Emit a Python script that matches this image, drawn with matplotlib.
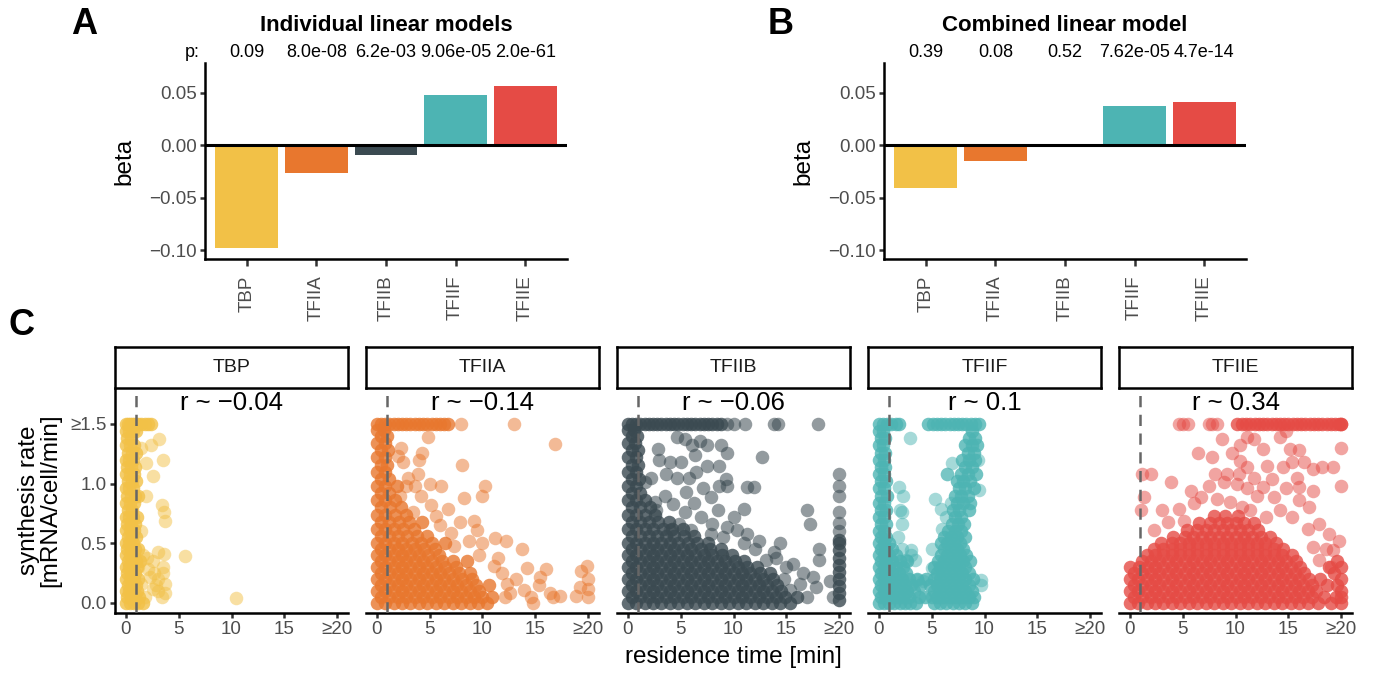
import numpy as np
import matplotlib
matplotlib.use("Agg")
import matplotlib.pyplot as plt
import matplotlib.transforms as mtransforms

plt.rcParams['font.family'] = ['Liberation Sans', 'DejaVu Sans']

# ---------------- data ----------------
factors = ["TBP", "TFIIA", "TFIIB", "TFIIF", "TFIIE"]
colors = ["#F2C147", "#E8772E", "#3B4A51", "#4DB4B3", "#E54B45"]

beta_individual = [-0.098, -0.026, -0.009, 0.048, 0.057]
p_individual = ["0.09", "8.0e-08", "6.2e-03", "9.06e-05", "2.0e-61"]
beta_combined = [-0.041, -0.015, -0.002, 0.0375, 0.041]
p_combined = ["0.39", "0.08", "0.52", "7.62e-05", "4.7e-14"]

r_values = ["r ~ \u22120.04", "r ~ \u22120.14", "r ~ \u22120.06", "r ~ 0.1", "r ~ 0.34"]

beta_ticks = [-0.10, -0.05, 0.00, 0.05]
beta_ticklabels = ["\u22120.10", "\u22120.05", "0.00", "0.05"]
time_ticks = [0, 5, 10, 15, 20]
time_ticklabels = ["0", "5", "10", "15", "\u226520"]
rate_ticks = [0.0, 0.5, 1.0, 1.5]
rate_ticklabels = ["0.0", "0.5", "1.0", "\u22651.5"]

# scatter points: dense rows (synthesis rate, [residence times]) + single points (time, rate)
tbp_rows = [
    (0.00, [0.0, 0.4, 0.8, 1.2, 1.6]), (0.05, [0.1, 0.5, 0.9, 1.3]),
    (0.10, [0.0, 0.3, 0.7, 1.1]), (0.15, [0.2, 0.6, 1.0]),
    (0.20, [0.0, 0.4, 0.8, 1.2]), (0.25, [0.1, 0.5, 0.9]),
    (0.30, [0.0, 0.3, 0.7, 1.1]), (0.35, [0.2, 0.6, 1.0, 1.4]),
    (0.40, [0.0, 0.4, 0.8]), (0.45, [0.1, 0.5, 0.9, 1.2]),
    (0.50, [0.0, 0.3, 0.7]), (0.55, [0.2, 0.6, 1.0]),
    (0.61, [0.0, 0.4, 0.8]), (0.66, [0.1, 0.5, 0.9]),
    (0.72, [0.0, 0.3, 0.7, 1.1]), (0.78, [0.2, 0.6]),
    (0.84, [0.0, 0.4, 0.8]), (0.90, [0.1, 0.5, 0.9, 1.2]),
    (0.96, [0.0, 0.3, 0.7]), (1.02, [0.2, 0.6, 1.0]),
    (1.08, [0.0, 0.4, 0.8]), (1.14, [0.1, 0.5, 0.9]),
    (1.20, [0.0, 0.3, 0.7]), (1.26, [0.2, 0.6, 1.0]),
    (1.32, [0.0, 0.4, 0.8]), (1.38, [0.1, 0.5]),
    (1.44, [0.0, 0.3, 0.7, 1.0]),
    (1.50, [0.0, 0.2, 0.4, 0.6, 0.8, 1.0, 1.2, 1.5, 1.8, 2.1, 2.4]),
]
tbp_single = [
    (3.2, 1.37), (2.4, 1.32), (1.5, 1.30), (3.5, 1.20), (1.9, 1.17), (2.6, 1.06),
    (1.9, 0.90), (3.4, 0.82), (3.6, 0.76), (3.7, 0.69), (1.5, 0.60), (5.6, 0.39),
    (3.1, 0.43), (3.6, 0.41), (2.0, 0.38), (2.6, 0.35), (3.5, 0.30), (3.5, 0.25),
    (2.3, 0.22), (3.1, 0.20), (3.7, 0.16), (3.7, 0.08), (1.8, 0.05), (10.4, 0.04),
    (1.5, 0.16), (2.6, 0.12), (1.2, 0.30), (2.7, 0.25), (3.4, 0.05), (2.1, 0.28),
    (3.1, 0.10), (1.6, 0.40), (2.9, 0.15),
]

tfiia_rows = [
    (0.00, [0.0, 0.8, 1.6, 2.4, 3.2, 4.0, 4.8, 5.6, 6.4, 7.2, 8.0, 8.8, 9.6, 10.4]),
    (0.05, [0.4, 1.2, 2.0, 2.8, 3.6, 4.4, 5.2, 6.0, 6.8, 7.6, 8.4, 9.2, 10.0, 10.9]),
    (0.10, [0.0, 0.8, 1.6, 2.4, 3.2, 4.0, 4.8, 5.6, 6.4, 7.2, 8.0, 8.8, 9.7]),
    (0.15, [0.4, 1.2, 2.0, 2.8, 3.6, 4.4, 5.2, 6.0, 6.8, 7.6, 8.4, 9.4, 10.6]),
    (0.20, [0.0, 0.8, 1.6, 2.4, 3.2, 4.0, 4.8, 5.6, 6.4, 7.2, 8.1, 9.0]),
    (0.25, [0.4, 1.2, 2.0, 2.8, 3.6, 4.4, 5.2, 6.0, 6.8, 7.8, 8.8]),
    (0.30, [0.0, 0.8, 1.6, 2.4, 3.2, 4.0, 4.8, 5.6, 6.5, 7.5]),
    (0.35, [0.4, 1.2, 2.0, 2.8, 3.6, 4.4, 5.2, 6.2, 7.2, 8.5]),
    (0.40, [0.0, 0.8, 1.6, 2.4, 3.2, 4.0, 4.9, 5.9]),
    (0.45, [0.4, 1.2, 2.0, 2.8, 3.6, 4.5, 5.5]),
    (0.50, [0.0, 0.8, 1.6, 2.4, 3.3, 4.2, 5.2, 6.5]),
    (0.56, [0.4, 1.2, 2.0, 2.9, 3.8, 4.8]),
    (0.62, [0.0, 0.8, 1.6, 2.5, 3.5]),
    (0.68, [0.4, 1.2, 2.1, 3.1, 4.3]),
    (0.74, [0.0, 0.8, 1.7, 2.8]),
    (0.80, [0.4, 1.3, 2.3]),
    (0.86, [0.0, 0.8, 1.7]),
    (0.92, [0.4, 1.2]), (0.98, [0.0, 0.8, 1.9]), (1.04, [0.4, 1.2]),
    (1.10, [0.0, 0.8]), (1.16, [0.4, 1.0]), (1.22, [0.0, 0.8]),
    (1.28, [0.4, 1.1]), (1.34, [0.0, 0.8]), (1.40, [0.4, 1.0]), (1.45, [0.0, 0.7]),
    (1.50, [0.0, 0.4, 0.8, 1.2, 1.6, 2.0, 2.4, 2.8, 3.2, 3.6, 4.0, 4.4, 4.8, 5.2,
            5.6, 6.0, 6.4, 6.7]),
]
tfiia_single = [
    (8.0, 1.50), (13.0, 1.50),
    (16.8, 1.33), (4.9, 1.39), (2.3, 1.30), (4.3, 1.26), (2.0, 1.23), (2.5, 1.18),
    (8.1, 1.16), (3.9, 1.08), (2.8, 0.98), (3.6, 0.98), (6.1, 0.98), (10.2, 0.98),
    (10.0, 0.90), (8.3, 0.88), (4.2, 0.90), (2.2, 0.90), (5.1, 0.82), (6.7, 0.79),
    (3.4, 0.76), (5.6, 0.73), (7.9, 0.68), (9.2, 0.69), (9.5, 0.61), (7.0, 0.59),
    (11.2, 0.54), (12.2, 0.52), (13.7, 0.45), (10.0, 0.50), (8.7, 0.52), (11.5, 0.38),
    (14.2, 0.29), (16.0, 0.28), (19.9, 0.31), (19.3, 0.27), (20.0, 0.20), (19.2, 0.13),
    (20.0, 0.12), (18.8, 0.06), (20.0, 0.05), (17.3, 0.06), (16.4, 0.08), (15.4, 0.22),
    (14.6, 0.05), (14.8, 0.00), (13.2, 0.20), (12.3, 0.16), (13.9, 0.11), (12.1, 0.05),
    (11.1, 0.31), (11.8, 0.25), (12.6, 0.08), (15.3, 0.15), (16.7, 0.05), (4.0, 1.20),
    (3.0, 1.05), (5.0, 1.00), (7.3, 0.48), (9.7, 0.40), (6.0, 0.65),
]

tfiib_rows = [
    (0.00, [0.0, 0.8, 1.6, 2.4, 3.2, 4.0, 4.8, 5.6, 6.4, 7.2, 8.0, 8.8, 9.6, 10.4,
            11.2, 12.0, 12.8, 13.6, 14.4, 15.3]),
    (0.05, [0.4, 1.2, 2.0, 2.8, 3.6, 4.4, 5.2, 6.0, 6.8, 7.6, 8.4, 9.2, 10.0, 10.8,
            11.6, 12.4, 13.2, 14.0, 14.9, 16.0]),
    (0.10, [0.0, 0.8, 1.6, 2.4, 3.2, 4.0, 4.8, 5.6, 6.4, 7.2, 8.0, 8.8, 9.6, 10.4,
            11.2, 12.0, 12.8, 13.6, 14.5]),
    (0.15, [0.4, 1.2, 2.0, 2.8, 3.6, 4.4, 5.2, 6.0, 6.8, 7.6, 8.4, 9.2, 10.0, 10.8,
            11.6, 12.4, 13.2, 14.1]),
    (0.20, [0.0, 0.8, 1.6, 2.4, 3.2, 4.0, 4.8, 5.6, 6.4, 7.2, 8.0, 8.8, 9.6, 10.4,
            11.2, 12.0, 12.8, 13.7]),
    (0.25, [0.4, 1.2, 2.0, 2.8, 3.6, 4.4, 5.2, 6.0, 6.8, 7.6, 8.4, 9.2, 10.0, 10.8,
            11.6, 12.5, 13.4]),
    (0.30, [0.0, 0.8, 1.6, 2.4, 3.2, 4.0, 4.8, 5.6, 6.4, 7.2, 8.0, 8.8, 9.6, 10.4,
            11.3, 12.2]),
    (0.35, [0.4, 1.2, 2.0, 2.8, 3.6, 4.4, 5.2, 6.0, 6.8, 7.6, 8.4, 9.2, 10.1, 11.0]),
    (0.40, [0.0, 0.8, 1.6, 2.4, 3.2, 4.0, 4.8, 5.6, 6.4, 7.2, 8.0, 8.9, 9.9]),
    (0.45, [0.4, 1.2, 2.0, 2.8, 3.6, 4.4, 5.2, 6.0, 6.9, 7.8, 8.8]),
    (0.50, [0.0, 0.8, 1.6, 2.4, 3.2, 4.0, 4.8, 5.7, 6.6, 7.6]),
    (0.56, [0.4, 1.2, 2.0, 2.8, 3.6, 4.4, 5.3, 6.3]),
    (0.62, [0.0, 0.8, 1.6, 2.4, 3.3, 4.2, 5.2]),
    (0.68, [0.4, 1.2, 2.0, 2.9, 3.9]),
    (0.74, [0.0, 0.8, 1.6, 2.6]),
    (0.80, [0.4, 1.2, 2.1]),
    (0.86, [0.0, 0.8, 1.6]), (0.92, [0.4, 1.2]), (0.98, [0.0, 0.8]),
    (1.04, [0.4, 1.1]), (1.10, [0.0, 0.8]), (1.16, [0.4, 1.0]), (1.22, [0.0, 0.8]),
    (1.28, [0.4, 1.0]), (1.34, [0.0, 0.7]), (1.40, [0.4, 0.9]), (1.45, [0.0, 0.6]),
    (1.50, [0.0, 0.4, 0.8, 1.2, 1.6, 2.0, 2.4, 2.8, 3.2, 3.6, 4.0, 4.4, 4.8, 5.2,
            5.6, 6.0, 6.4, 6.8, 7.2, 7.6, 8.0, 8.4, 8.8]),
    (0.02, [20.0]), (0.08, [20.0]), (0.14, [20.0]), (0.20, [20.0]), (0.26, [20.0]),
    (0.32, [20.0]), (0.38, [20.0]), (0.44, [20.0]), (0.50, [20.0]), (0.53, [20.0]),
]
tfiib_single = [
    (9.4, 1.50), (10.0, 1.50), (11.1, 1.50), (13.8, 1.50), (14.2, 1.50), (18.0, 1.50),
    (2.9, 1.29), (4.7, 1.39), (5.4, 1.37), (9.4, 1.26), (12.7, 1.22), (6.1, 1.32),
    (6.8, 1.36), (7.5, 1.32), (8.8, 1.32), (4.0, 1.18), (5.0, 1.18), (6.4, 1.24),
    (7.5, 1.15), (8.6, 1.15), (3.6, 1.08), (2.2, 1.05), (4.7, 1.05), (5.8, 1.05),
    (9.3, 1.04), (8.6, 0.98), (9.4, 0.98), (11.3, 0.97), (11.9, 0.97), (16.9, 0.78),
    (17.2, 0.66), (18.1, 0.45), (18.1, 0.36), (14.4, 0.50), (13.8, 0.43), (13.1, 0.36),
    (15.6, 0.33), (11.0, 0.79), (10.0, 0.72), (9.4, 0.64), (11.3, 0.58), (12.4, 0.52),
    (10.3, 0.61), (7.9, 0.89), (7.1, 0.96), (6.3, 0.84), (8.5, 0.78), (6.9, 0.72),
    (5.4, 0.76), (4.3, 0.83), (3.5, 0.90), (2.7, 0.78), (1.6, 1.01), (2.6, 0.85),
    (4.9, 0.66), (6.0, 0.61), (7.9, 0.58), (4.0, 0.61), (16.6, 0.25), (17.5, 0.22),
    (19.1, 0.18), (16.3, 0.16), (17.8, 0.13), (19.4, 0.05), (15.3, 0.11), (16.9, 0.05),
    (14.8, 0.20), (15.0, 0.30), (14.0, 0.38), (12.0, 0.45), (11.0, 0.50), (9.0, 0.55),
    (8.0, 0.66), (3.0, 1.20), (5.5, 0.93), (6.5, 1.10),
    (20.0, 0.60), (20.0, 0.67), (20.0, 0.76), (20.0, 0.90), (20.0, 0.98), (20.0, 1.08),
]

tfiif_rows = [
    (0.00, [0.0, 0.5, 1.0, 1.5, 2.0, 2.5, 3.0, 3.5, 5.2, 5.8, 6.4, 7.0, 7.6, 8.2, 8.8]),
    (0.05, [0.2, 0.7, 1.2, 1.8, 2.3, 2.9, 3.8, 4.4, 5.0, 5.5, 6.1, 6.7, 7.3, 7.9, 8.5,
            9.0]),
    (0.10, [0.0, 0.5, 1.0, 1.5, 2.1, 2.7, 3.3, 5.2, 5.8, 6.4, 7.0, 7.6, 8.2, 8.8]),
    (0.15, [0.2, 0.7, 1.3, 1.9, 2.5, 3.1, 3.9, 4.9, 5.5, 6.1, 6.7, 7.3, 7.9, 8.5]),
    (0.20, [0.0, 0.5, 1.0, 1.6, 2.2, 2.9, 3.6, 4.5, 5.2, 5.8, 6.4, 7.0, 7.6, 8.2, 8.9]),
    (0.25, [0.2, 0.7, 1.3, 1.9, 2.6, 5.5, 6.1, 6.7, 7.3, 7.9, 8.5]),
    (0.30, [0.0, 0.5, 1.0, 1.6, 2.3, 5.2, 5.8, 6.4, 7.0, 7.6, 8.2]),
    (0.35, [0.2, 0.7, 1.3, 2.0, 2.7, 5.6, 6.2, 6.8, 7.4, 8.0, 8.6]),
    (0.40, [0.0, 0.5, 1.0, 1.6, 5.9, 6.5, 7.1, 7.7, 8.3]),
    (0.45, [0.2, 0.7, 1.3, 6.2, 6.8, 7.4, 8.0]),
    (0.50, [0.0, 0.5, 1.0, 5.9, 6.5, 7.1, 7.7]),
    (0.55, [0.2, 0.7, 6.2, 6.8, 7.4, 8.2]),
    (0.60, [0.0, 0.5, 6.6, 7.2, 7.8]),
    (0.66, [0.2, 0.7, 6.9, 7.5, 8.1]),
    (0.72, [0.0, 0.5, 7.2, 7.8]),
    (0.78, [0.2, 0.7, 7.0, 7.6, 8.5]),
    (0.84, [0.0, 0.5, 7.4, 8.0, 8.6]),
    (0.90, [0.2, 0.8, 7.2, 7.8, 8.4]),
    (0.96, [0.0, 0.5, 7.6, 8.2, 9.0]),
    (1.02, [0.2, 0.7, 7.4, 8.0, 8.6]),
    (1.08, [0.0, 0.5, 7.8, 8.4, 9.2]),
    (1.14, [0.2, 0.6, 8.2, 8.8]),
    (1.20, [0.0, 0.5, 7.9, 8.5, 9.1]),
    (1.26, [0.2, 0.6, 8.4, 9.0]),
    (1.32, [0.0, 0.4, 8.2, 8.8, 9.3]),
    (1.38, [0.2, 0.6, 8.5, 9.1]),
    (1.44, [0.0, 0.4, 8.8]),
    (1.50, [0.0, 0.4, 0.8, 1.2, 1.6, 1.9, 4.7, 5.1, 5.5, 5.9, 6.3, 6.7, 7.1, 7.5, 7.9,
            8.3, 8.7, 9.1, 9.5]),
]
tfiif_single = [
    (3.0, 1.38), (5.3, 0.87), (5.9, 0.79), (6.5, 1.08), (6.9, 1.17), (5.0, 0.29),
    (4.2, 0.18), (3.6, 0.19), (1.9, 0.97), (2.2, 0.76), (3.1, 0.44), (3.4, 0.36),
    (2.6, 0.36), (9.7, 0.19), (9.4, 1.20), (9.5, 0.95), (6.0, 0.62), (9.7, 0.15),
    (3.1, 0.40), (2.2, 0.45), (1.8, 0.55), (2.2, 0.66), (2.0, 0.78), (2.3, 0.90),
    (6.4, 0.72), (6.8, 0.84), (6.5, 1.08), (5.0, 0.45),
]

tfiie_rows = [
    (0.00, [0.0, 0.8, 1.6, 2.4, 3.2, 4.0, 4.8, 5.6, 6.4, 7.2, 8.0, 8.8, 9.6, 10.4, 11.2,
            12.0, 12.8, 13.6, 14.4, 15.2, 16.0, 16.8, 17.8, 19.0, 20.0]),
    (0.05, [0.4, 1.2, 2.0, 2.8, 3.6, 4.4, 5.2, 6.0, 6.8, 7.6, 8.4, 9.2, 10.0, 10.8, 11.6,
            12.4, 13.2, 14.0, 14.8, 15.6, 16.4, 17.2, 18.4, 19.5, 20.0]),
    (0.10, [0.0, 0.8, 1.6, 2.4, 3.2, 4.0, 4.8, 5.6, 6.4, 7.2, 8.0, 8.8, 9.6, 10.4, 11.2,
            12.0, 12.8, 13.6, 14.4, 15.2, 16.0, 16.8, 17.6, 20.0]),
    (0.15, [0.4, 1.2, 2.0, 2.8, 3.6, 4.4, 5.2, 6.0, 6.8, 7.6, 8.4, 9.2, 10.0, 10.8, 11.6,
            12.4, 13.2, 14.0, 14.8, 15.6, 16.4, 17.2, 18.6, 19.6]),
    (0.20, [0.0, 0.8, 1.6, 2.4, 3.2, 4.0, 4.8, 5.6, 6.4, 7.2, 8.0, 8.8, 9.6, 10.4, 11.2,
            12.0, 12.8, 13.6, 14.4, 15.2, 16.0, 16.9, 18.0, 20.0]),
    (0.25, [0.4, 1.2, 2.0, 2.8, 3.6, 4.4, 5.2, 6.0, 6.8, 7.6, 8.4, 9.2, 10.0, 10.8, 11.6,
            12.4, 13.2, 14.0, 14.8, 15.6, 16.5, 19.3]),
    (0.30, [0.0, 0.9, 1.6, 2.4, 3.2, 4.0, 4.8, 5.6, 6.4, 7.2, 8.0, 8.8, 9.6, 10.4, 11.2,
            12.0, 12.8, 13.6, 14.4, 15.2, 16.1, 18.8, 20.0]),
    (0.35, [1.2, 2.0, 2.8, 3.6, 4.4, 5.2, 6.0, 6.8, 7.6, 8.4, 9.2, 10.0, 10.8, 11.6,
            12.4, 13.2, 14.0, 14.8, 15.7, 19.6]),
    (0.40, [1.6, 2.4, 3.2, 4.0, 4.8, 5.6, 6.4, 7.2, 8.0, 8.8, 9.6, 10.4, 11.2, 12.0,
            12.8, 13.6, 14.4, 15.3]),
    (0.45, [2.3, 3.2, 4.0, 4.8, 5.6, 6.4, 7.2, 8.0, 8.8, 9.6, 10.4, 11.2, 12.0, 12.8,
            13.6, 14.5]),
    (0.50, [3.0, 4.0, 4.8, 5.6, 6.4, 7.2, 8.0, 8.8, 9.6, 10.4, 11.2, 12.0, 12.8, 13.8]),
    (0.55, [4.1, 5.2, 6.0, 6.8, 7.6, 8.4, 9.2, 10.0, 10.8, 11.6, 12.4, 13.3]),
    (0.61, [5.4, 6.4, 7.2, 8.0, 8.8, 9.6, 10.4, 11.2, 12.1]),
    (0.67, [6.6, 7.6, 8.4, 9.2, 10.0, 10.8, 11.7]),
    (0.73, [8.0, 9.0, 10.2]),
    (1.50, [10.1, 10.6, 11.0, 11.4, 11.8, 12.2, 12.6, 13.0, 13.4, 13.8, 14.2, 14.6,
            15.0, 15.4, 15.8, 16.2, 16.6, 17.0, 17.4, 17.8, 18.2, 18.6, 19.0, 19.4, 19.8,
            20.0, 20.0]),
]
tfiie_single = [
    (4.7, 1.50), (5.0, 1.50), (5.5, 1.50), (7.5, 1.50), (7.8, 1.50), (8.3, 1.50),
    (1.2, 1.08), (2.0, 1.08), (1.4, 0.89), (1.1, 0.78), (3.9, 1.01), (5.8, 0.94),
    (6.5, 1.26), (7.8, 1.22), (8.7, 1.37), (10.4, 1.32), (11.1, 1.39), (11.7, 1.37),
    (12.6, 1.29), (9.7, 1.26), (10.4, 1.19), (11.1, 1.14), (10.3, 1.08), (9.2, 1.08),
    (8.1, 1.08), (7.5, 0.98), (8.9, 1.01), (11.7, 1.05), (12.6, 0.97), (13.4, 1.04),
    (14.2, 1.39), (14.8, 1.44), (15.1, 1.29), (16.0, 1.28), (16.5, 1.18), (15.3, 1.18),
    (14.5, 1.14), (17.3, 1.12), (18.2, 1.14), (19.2, 1.14), (20.0, 1.30), (20.0, 0.98),
    (17.3, 0.94), (16.0, 0.97), (14.8, 0.96), (13.6, 0.89), (16.0, 0.86), (16.9, 0.80),
    (17.9, 0.66), (18.8, 0.58), (19.8, 0.52), (19.2, 0.44), (17.3, 0.47), (17.9, 0.36),
    (3.1, 0.78), (4.7, 0.79), (6.1, 0.84), (6.7, 0.89), (8.3, 0.87), (10.1, 1.00),
    (11.1, 0.96), (12.0, 0.90), (14.2, 0.78), (15.3, 0.72), (5.1, 0.69), (2.3, 0.61),
    (3.6, 0.68), (12.9, 0.72), (11.4, 0.78), (9.5, 0.85), (10.6, 0.80), (13.0, 1.15),
    (15.8, 1.05), (16.8, 0.62), (18.5, 0.45), (19.0, 0.30),
]

scatter_rows = [tbp_rows, tfiia_rows, tfiib_rows, tfiif_rows, tfiie_rows]
scatter_single = [tbp_single, tfiia_single, tfiib_single, tfiif_single, tfiie_single]


def unpack_rows(rows):
    xs, ys = [], []
    for y, row in rows:
        xs += row
        ys += [y] * len(row)
    return np.array(xs), np.array(ys)


# ---------------- figure ----------------
W, H = 1376, 680
fig = plt.figure(figsize=(W / 100, H / 100), dpi=100)

def px_axes(left, top, right, bottom):
    return fig.add_axes([left / W, 1 - bottom / H, (right - left) / W, (bottom - top) / H])

tick_col = "#4D4D4D"
LW = 1.8


def style_axes(ax):
    for s in ["top", "right"]:
        ax.spines[s].set_visible(False)
    for s in ["left", "bottom"]:
        ax.spines[s].set_linewidth(LW)
        ax.spines[s].set_color("black")
    ax.tick_params(length=3.8, width=LW, color="#333333", labelcolor=tick_col,
                   labelsize=13.5, pad=2)


def bar_panel(left, right, betas, pvals, title, letter, letter_x, show_p):
    ax = px_axes(left, 63, right, 259)
    x = np.arange(1, len(factors) + 1)
    ax.bar(x, betas, width=0.9, color=colors, zorder=2)
    ax.axhline(0, color="black", lw=2.2, zorder=3)
    ax.set_xlim(0.4, 5.6)
    ax.set_ylim(-0.1085, 0.0785)
    ax.set_yticks(beta_ticks)
    ax.set_yticklabels(beta_ticklabels)
    ax.set_xticks(x)
    ax.set_xticklabels(factors, rotation=90)
    style_axes(ax)
    ax.tick_params(axis="x", length=5, pad=7)
    ax.set_ylabel("beta", fontsize=17.5, labelpad=10)
    trans = mtransforms.blended_transform_factory(ax.transData, ax.transAxes)
    for xi, p in zip(x, pvals):
        ax.text(xi, 1.055, p, transform=trans, ha="center", va="center", fontsize=13)
    if show_p:
        ax.text(0.32, 1.055, "p:", transform=trans, ha="right", va="center", fontsize=13)
    ax.text(0.5, 1.19, title, transform=ax.transAxes, ha="center", va="center",
            fontsize=16, fontweight="bold")
    fig.text(letter_x / W, 1 - 25 / H, letter, ha="center", va="center",
             fontsize=26, fontweight="bold")


bar_panel(205, 567, beta_individual, p_individual, "Individual linear models", "A", 84, True)
bar_panel(884, 1246, beta_combined, p_combined, "Combined linear model", "B", 781, False)

fig.text(22 / W, 1 - 325 / H, "C", ha="center", va="center", fontsize=26, fontweight="bold")

lefts = [115, 366, 617, 868, 1119]
pw = 233
for i, name in enumerate(factors):
    l = lefts[i]
    ax = px_axes(l, 390, l + pw, 613)
    # dense rows stand for many stacked points -> stronger opacity
    xr, yr = unpack_rows(scatter_rows[i])
    ax.scatter(xr, yr, s=95, color=colors[i], alpha=0.8, linewidths=0, zorder=2)
    xs = [p[0] for p in scatter_single[i]]
    ys = [p[1] for p in scatter_single[i]]
    alpha = 0.55 if name == "TFIIB" else 0.5
    ax.scatter(xs, ys, s=95, color=colors[i], alpha=alpha, linewidths=0, zorder=2)
    ax.axvline(1, color="#666666", lw=1.8, ls=(0, (4.5, 3)), zorder=3)
    ax.text(10, 1.68, r_values[i], ha="center", va="center", fontsize=18.5, color="black")
    ax.set_xlim(-1, 21)
    ax.set_ylim(-0.085, 1.785)
    ax.set_xticks(time_ticks)
    ax.set_xticklabels(time_ticklabels)
    style_axes(ax)
    if i == 0:
        ax.set_yticks(rate_ticks)
        ax.set_yticklabels(rate_ticklabels)
    else:
        ax.spines["left"].set_visible(False)
        ax.set_yticks([])
    # facet strip
    st = px_axes(l, 347, l + pw, 388)
    st.set_xticks([])
    st.set_yticks([])
    for s in st.spines.values():
        s.set_linewidth(LW)
        s.set_color("black")
    st.text(0.5, 0.5, name, ha="center", va="center", fontsize=14, color="#1A1A1A",
            transform=st.transAxes)

fig.text(733 / W, 1 - 657 / H, "residence time [min]", ha="center", va="center",
         fontsize=17.5)
fig.text(40 / W, 1 - 500 / H, "synthesis rate\n[mRNA/cell/min]", ha="center",
         va="center", rotation=90, fontsize=17.5, linespacing=0.95)

fig.savefig("out.png", dpi=100)
